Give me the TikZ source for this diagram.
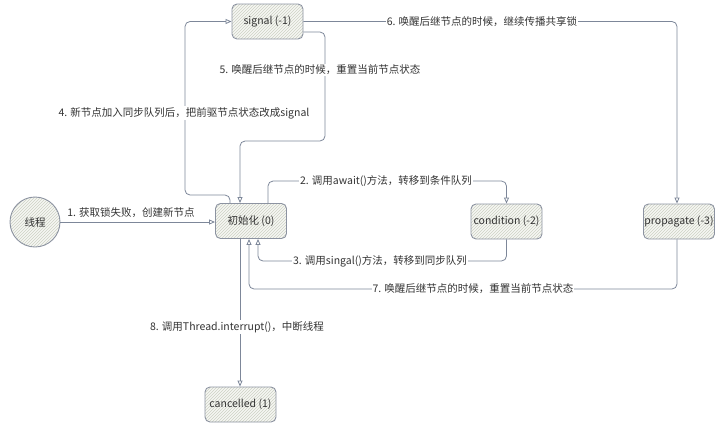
\documentclass[tikz,border=0pt]{standalone}
\usepackage{fontspec}
\setmainfont{Noto Sans CJK SC}
\usetikzlibrary{arrows.meta,patterns}
\definecolor{linec}{HTML}{7D8799}
\definecolor{boxc}{HTML}{8C93A1}
\definecolor{hatchc}{HTML}{CDD2C4}
\definecolor{fillc}{HTML}{F6F7F3}
\definecolor{textc}{HTML}{333333}
\tikzset{
  state/.style={draw=boxc, line width=0.9pt, rounded corners=5pt, minimum width=71pt, minimum height=35pt,
    preaction={fill=fillc}, pattern=north east lines, pattern color=hatchc, text=textc, font=\fontsize{10.5pt}{12pt}\selectfont, inner sep=0pt},
  startc/.style={draw=boxc, line width=0.9pt, circle, minimum size=50pt,
    preaction={fill=fillc}, pattern=north east lines, pattern color=hatchc, text=textc, font=\fontsize{10.5pt}{12pt}\selectfont, inner sep=0pt},
  conn/.style={draw=linec, line width=0.8pt, rounded corners=5pt},
  arr/.style={conn, -{Triangle[open,length=6pt,width=5pt]}},
  lbl/.style={fill=white, text=textc, font=\fontsize{10.5pt}{12pt}\selectfont, inner sep=1pt}
}
\begin{document}
\begin{tikzpicture}[x=1pt,y=-1pt]
\useasboundingbox (0,0) rectangle (720,424);
\node[startc] (thread) at (35,222) {线程};
\node[state] (init) at (251,221) {初始化 (0)};
\node[state] (sig) at (267.5,21.5) {signal (-1)};
\node[state] (cond) at (506.5,221.5) {condition (-2)};
\node[state] (prop) at (679,221.5) {propagate (-3)};
\node[state] (cancel) at (240.5,404.5) {cancelled (1)};

% 1
\draw[arr] (thread.east) -- (thread.east -| init.west);
\node[text=textc, font=\fontsize{10.5pt}{12pt}\selectfont] (l1) at (131,213) {1. 获取锁失败，创建新节点};
% 2
\draw[arr] ([xshift=17pt]init.north) |- (386,181) -| (cond.north);
\node[lbl] (l2) at (386,181) {2. 调用await()方法，转移到条件队列};
% 3
\draw[arr] (cond.south) |- (380,261) -| ([xshift=7pt]init.south);
\node[lbl] (l3) at (380,261) {3. 调用singal()方法，转移到同步队列};
% 4
\draw[arr] ([xshift=-21pt]init.north) |- (185,195) |- (sig.west);
\node[lbl] (l4) at (184,113) {4. 新节点加入同步队列后，把前驱节点状态改成signal};
% 5
\draw[arr] ([yshift=-10.5pt]sig.east) -| (325,141) -| ([xshift=-11pt]init.north);
\node[lbl] (l5) at (320,70) {5. 唤醒后继节点的时候，重置当前节点状态};
% 6
\draw[arr] (sig.east) -| ([xshift=-2pt]prop.north);
\node[lbl] (l6) at (482,22) {6. 唤醒后继节点的时候，继续传播共享锁};
% 7
\draw[arr] ([xshift=-2pt]prop.south) |- (473,289) -| ([xshift=-2pt]init.south);
\node[lbl] (l7) at (473,289) {7. 唤醒后继节点的时候，重置当前节点状态};
% 8
\draw[arr] ([xshift=-11pt]init.south) -- ([xshift=-11pt]init.south |- cancel.north);
\node[lbl] (l8) at (237,327) {8. 调用Thread.interrupt()，中断线程};
\end{tikzpicture}
\end{document}
